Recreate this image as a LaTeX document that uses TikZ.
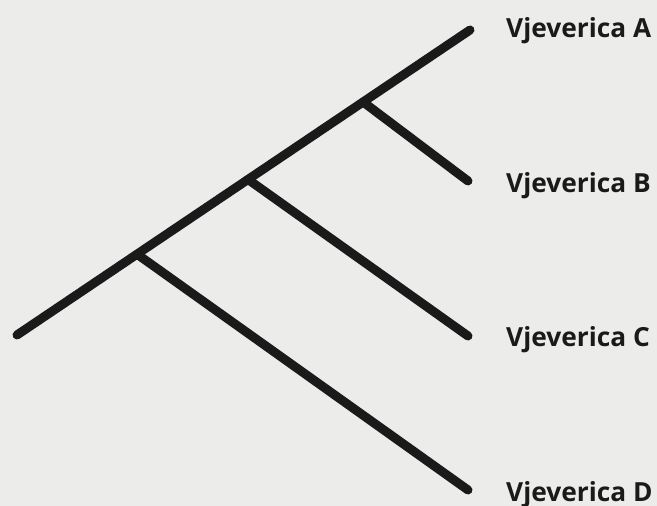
\documentclass[tikz,border=0pt]{standalone}
\usepackage{fontspec}
\setmainfont{Open Sans}
\usetikzlibrary{calc}
\definecolor{bgGrey}{HTML}{ECEDEB}
\definecolor{inkBlack}{HTML}{1A1A1A}

\begin{document}
\begin{tikzpicture}[x=1pt,y=1pt]
\tikzstyle{every node}=[font=\bfseries\fontsize{26.3}{30}\selectfont, text=inkBlack]
\tikzstyle{branch}=[draw=inkBlack, line width=9pt, line cap=round]
\tikzstyle{leaf}=[anchor=west, inner sep=0pt]
\fill[bgGrey] (0,0) rectangle (657,506);
\useasboundingbox (0,0) rectangle (657,506);

\coordinate (root) at (17,171);
\coordinate (tipA) at (470,476);
\coordinate (tipB) at (468,325);
\coordinate (tipC) at (468,170);
\coordinate (tipD) at (468,16);
\coordinate (jB) at ($(root)!0.764!(tipA)$);
\coordinate (jC) at ($(root)!0.51!(tipA)$);
\coordinate (jD) at ($(root)!0.265!(tipA)$);

\draw[branch] (root) -- (tipA);
\draw[branch] (jB) -- (tipB);
\draw[branch] (jC) -- (tipC);
\draw[branch] (jD) -- (tipD);

\node[leaf] (labA) at (506,475) {Vjeverica A};
\node[leaf] (labB) at (506,320) {Vjeverica B};
\node[leaf] (labC) at (506,166) {Vjeverica C};
\node[leaf] (labD) at (506,11) {Vjeverica D};
\end{tikzpicture}
\end{document}
